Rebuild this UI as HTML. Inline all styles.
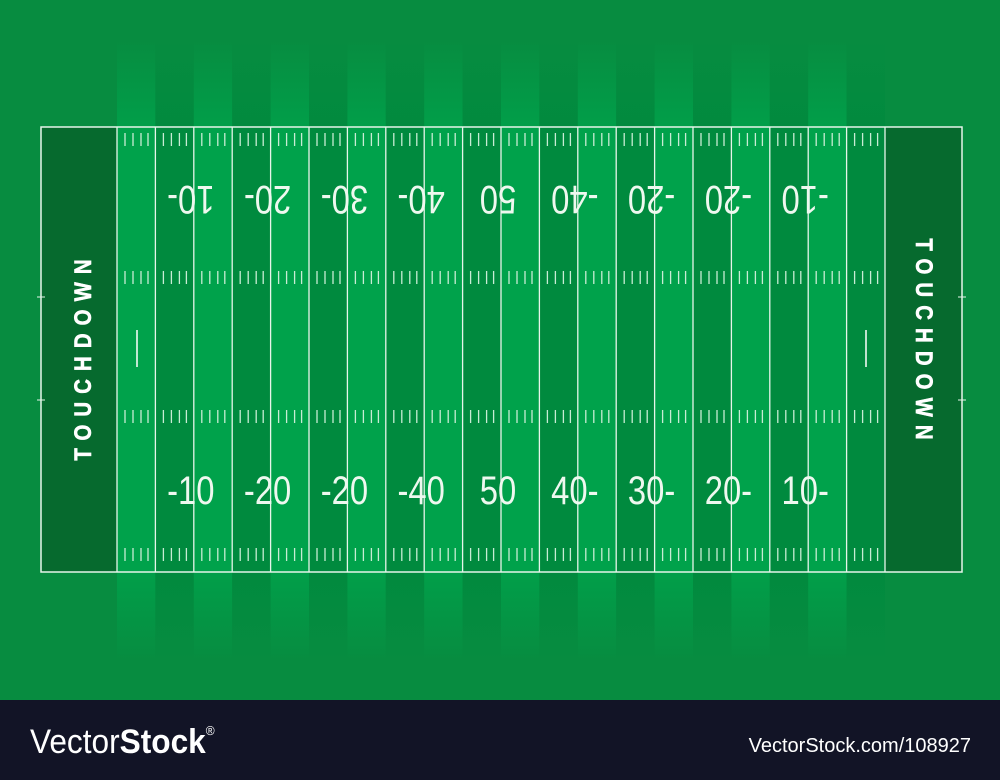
<!DOCTYPE html>
<html><head><meta charset="utf-8"><style>
html,body{margin:0;padding:0;width:1000px;height:780px;overflow:hidden;background:#078c40}
svg{display:block}
</style></head><body>
<svg id="s" width="1000" height="780" viewBox="0 0 1000 780" xmlns="http://www.w3.org/2000/svg">
<defs>
<linearGradient id="fadeTop" x1="0" y1="0" x2="0" y2="1"><stop offset="0" stop-color="#078c40" stop-opacity="1"/><stop offset="0.15" stop-color="#078c40" stop-opacity="0.85"/><stop offset="1" stop-color="#078c40" stop-opacity="0.15"/></linearGradient>
<linearGradient id="fadeBot" x1="0" y1="0" x2="0" y2="1"><stop offset="0" stop-color="#078c40" stop-opacity="0.15"/><stop offset="0.85" stop-color="#078c40" stop-opacity="0.85"/><stop offset="1" stop-color="#078c40" stop-opacity="1"/></linearGradient>
</defs>
<rect x="0" y="0" width="1000" height="700" fill="#078c40"/>
<g id="stripes"></g>
<rect x="100" y="40" width="800" height="88" fill="url(#fadeTop)"/>
<rect x="100" y="572" width="800" height="88" fill="url(#fadeBot)"/>
<g id="field"></g>
<rect x="0" y="700" width="1000" height="80" fill="#121426"/>
<text x="0" y="0" font-family="Liberation Sans, sans-serif" font-size="34" fill="#fff" transform="translate(30 753) scale(0.93 1)"><tspan>Vector</tspan><tspan font-weight="bold">Stock</tspan><tspan font-size="13" dy="-18">®</tspan></text>
<text x="971" y="752" text-anchor="end" font-family="Liberation Sans, sans-serif" font-size="20" fill="#fff">VectorStock.com/108927</text>
</svg>
<script>
const yardLinesBottom = ["-10","-20","-20","-40","50","40-","30-","20-","10-"];
const yardLinesTop = ["10-","20-","30-","40-","50","-40","-20","-20","-10"];
const NS="http://www.w3.org/2000/svg";
const X0=117, X1=885, FY0=127, FY1=572, COLS=20, CW=(X1-X0)/COLS;
function mk(tag,attrs,parent){const e=document.createElementNS(NS,tag);for(const k in attrs)e.setAttribute(k,attrs[k]);parent.appendChild(e);return e;}
const st=document.getElementById('stripes'), f=document.getElementById('field');
const light="#00a24b", dark="#008a3e";
for(let i=0;i<COLS;i++){
  const x=X0+i*CW, c=i%2===0?light:dark;
  const a=mk('rect',{x:x,y:40,width:CW,height:87,fill:c},st);
  
  
  const b=mk('rect',{x:x,y:572,width:CW,height:88,fill:c},st);
  
  
}
for(let i=0;i<COLS;i++){
  const x=X0+i*CW;
  const r=mk('rect',{x:x,y:FY0,width:CW,height:FY1-FY0,fill:i%2===0?light:dark},f);
  
  
  [133,271,410,548].forEach(y=>{
    [8,16,24,31].forEach(o=>{
      const t=mk('line',{x1:x+o,y1:y,x2:x+o,y2:y+13,stroke:"#c8ecd4","stroke-width":1.3},f);
      
      
    });
  });
}
[[41,X0,'left-end-zone'],[X1,962,'right-end-zone']].forEach(([a,b,n])=>{
  const e=mk('rect',{x:a,y:FY0,width:b-a,height:FY1-FY0,fill:"#066a2e"},f);
  
  
});
for(let i=0;i<=COLS;i++){
  const x=X0+i*CW;
  const l=mk('line',{x1:x,y1:FY0,x2:x,y2:FY1,stroke:"#e6f5ea","stroke-width":1.3},f);
  
  
}
const bd=mk('rect',{x:41,y:FY0,width:921,height:FY1-FY0,fill:"none",stroke:"#e6f5ea","stroke-width":1.5},f);


[[37,45,297],[37,45,400],[958,966,297],[958,966,400]].forEach(([a,b,y])=>{
  const t=mk('line',{x1:a,y1:y,x2:b,y2:y,stroke:"#e6f5ea","stroke-width":1},f);
  
  
});
[137,866].forEach(x=>{
  const t=mk('line',{x1:x,y1:330,x2:x,y2:367,stroke:"#fff","stroke-width":1.5},f);
  
  
});
yardLinesBottom.forEach((s,i)=>{
  const cx=X0+(i+1)*2*CW;
  const t=mk('text',{x:0,y:0,"text-anchor":"middle","font-family":"Liberation Sans, sans-serif","font-size":40,fill:"#eef8ef",transform:`translate(${cx-3} 504) scale(0.82 1)`},f);
  t.textContent=s;
  
  
});
yardLinesTop.forEach((s,i)=>{
  const cx=X0+(i+1)*2*CW;
  const t=mk('text',{x:0,y:0,"text-anchor":"middle","font-family":"Liberation Sans, sans-serif","font-size":40,fill:"#eef8ef",transform:`translate(${cx-3} 186) rotate(180) scale(0.82 1)`},f);
  t.textContent=s;
  
  
});
const td1=mk('text',{x:0,y:0,"text-anchor":"middle","font-family":"Liberation Sans, sans-serif","font-weight":"bold","font-size":24,"letter-spacing":"9.5",fill:"#fff",stroke:"#fff","stroke-width":0.6,transform:"translate(91 356) rotate(-90) scale(0.85 1)"},f);
td1.textContent="TOUCHDOWN";


const td2=mk('text',{x:0,y:0,"text-anchor":"middle","font-family":"Liberation Sans, sans-serif","font-weight":"bold","font-size":24,"letter-spacing":"9.5",fill:"#fff",stroke:"#fff","stroke-width":0.6,transform:"translate(916 343) rotate(90) scale(0.85 1)"},f);
td2.textContent="TOUCHDOWN";


</script>
</body></html>
